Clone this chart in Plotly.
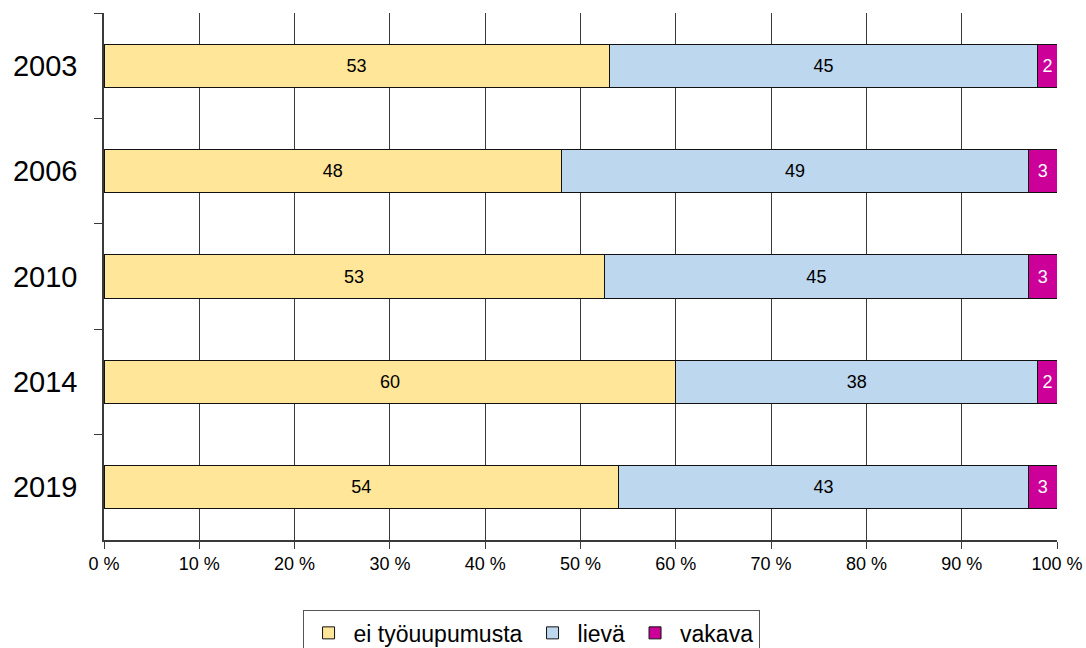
import plotly.graph_objects as go

years = ["2003", "2006", "2010", "2014", "2019"]
ei_tyouupumusta = [53, 48, 53, 60, 54]
lieva = [45, 49, 45, 38, 43]
vakava = [2, 3, 3, 2, 3]

series = [
    ("ei työuupumusta", ei_tyouupumusta, "#FFE699", "black"),
    ("lievä", lieva, "#BDD7EE", "black"),
    ("vakava", vakava, "#CC0099", "white"),
]

fig = go.Figure()
for name, vals, color, txtcolor in series:
    fig.add_trace(go.Bar(
        y=years, x=vals, name=name, orientation="h",
        marker=dict(color=color, line=dict(color="#111111", width=1)),
        text=[str(v) for v in vals], textposition="inside",
        insidetextanchor="middle", textangle=0,
        textfont=dict(family="Liberation Sans, Arial", size=18, color=txtcolor),
        hoverinfo="skip",
    ))

fig.update_layout(
    barmode="stack", barnorm="percent", bargap=0.59,
    width=1086, height=648,
    margin=dict(l=104, r=29, t=13, b=108),
    plot_bgcolor="white", paper_bgcolor="white",
    font=dict(family="Liberation Sans, Arial", color="black"),
    uniformtext=dict(minsize=18, mode="show"),
    xaxis=dict(
        range=[0, 100], dtick=10, ticksuffix=" %",
        showgrid=True, gridcolor="#3a3a3a", gridwidth=1,
        showline=True, linecolor="#3a3a3a", linewidth=1.5,
        ticks="outside", ticklen=7, tickcolor="#3a3a3a",
        tickfont=dict(size=18), zeroline=False, automargin=False,
    ),
    yaxis=dict(
        type="category", autorange="reversed",
        showgrid=False, showline=True, linecolor="#3a3a3a", linewidth=1.5,
        ticks="outside", ticklen=8, tickcolor="#3a3a3a", tickson="boundaries",
        tickfont=dict(size=29), ticklabelstandoff=19, automargin=False,
    ),
    legend=dict(
        orientation="h", xref="container", yref="container",
        x=0.489, xanchor="center", y=0.058, yanchor="top",
        bordercolor="#555555", borderwidth=1,
        font=dict(size=23), traceorder="normal",
        itemwidth=40,
    ),
    showlegend=True,
)

fig.write_html("out.html")
